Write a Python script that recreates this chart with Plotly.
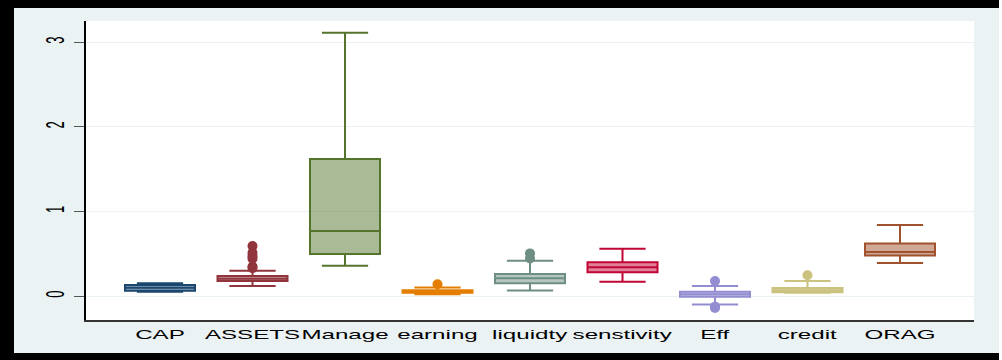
import plotly.graph_objects as go

categories = ["CAP", "ASSETS", "Manage", "earning", "liquidty", "senstivity", "Eff", "credit", "ORAG"]
q1_vals = [0.063, 0.177, 0.496, 0.040, 0.150, 0.280, -0.008, 0.044, 0.480]
median_vals = [0.098, 0.205, 0.770, 0.055, 0.210, 0.340, 0.020, 0.070, 0.520]
q3_vals = [0.130, 0.236, 1.620, 0.070, 0.260, 0.400, 0.050, 0.094, 0.620]
lower_vals = [0.050, 0.120, 0.358, 0.020, 0.067, 0.170, -0.100, 0.039, 0.390]
upper_vals = [0.150, 0.300, 3.110, 0.100, 0.417, 0.560, 0.120, 0.177, 0.840]
outlier_vals = [
    [],
    [0.59, 0.51, 0.47, 0.44, 0.35, 0.33],
    [],
    [0.14],
    [0.445, 0.504],
    [],
    [0.177, -0.125, -0.14],
    [0.245],
    [],
]
y_ticks = [0, 1, 2, 3]

colors = ["#1A476F", "#90353B", "#55752F", "#E37E00", "#6E8E84",
          "#C10534", "#938DD2", "#CAC27E", "#A0522D"]


def rgba(hexc, a):
    h = hexc.lstrip("#")
    r, g, b = int(h[0:2], 16), int(h[2:4], 16), int(h[4:6], 16)
    return f"rgba({r},{g},{b},{a})"


fig = go.Figure()
for i, cat in enumerate(categories):
    fig.add_trace(go.Box(
        x=[cat], q1=[q1_vals[i]], median=[median_vals[i]], q3=[q3_vals[i]],
        lowerfence=[lower_vals[i]], upperfence=[upper_vals[i]],
        width=0.757, whiskerwidth=0.66,
        line=dict(color=colors[i], width=2),
        fillcolor=rgba(colors[i], 0.5),
        boxpoints=False, showlegend=False, hoverinfo="skip",
    ))
    if outlier_vals[i]:
        fig.add_trace(go.Scatter(
            x=[cat] * len(outlier_vals[i]), y=outlier_vals[i], mode="markers",
            marker=dict(color=colors[i], size=10, line=dict(width=0)),
            showlegend=False, hoverinfo="skip",
        ))

W, H = 1002, 360
L, R, T, B = 86, 974, 21, 320
pw, ph = R - L, B - T


def px_x(x):
    return (x - L) / pw


def px_y(y):
    return (B - y) / ph


shapes = [
    # black frame
    dict(type="rect", xref="paper", yref="paper", x0=px_x(0), x1=px_x(14), y0=px_y(360), y1=px_y(0),
         fillcolor="black", line=dict(width=0), layer="above"),
    dict(type="rect", xref="paper", yref="paper", x0=px_x(0), x1=px_x(999), y0=px_y(8), y1=px_y(0),
         fillcolor="black", line=dict(width=0), layer="above"),
    dict(type="rect", xref="paper", yref="paper", x0=px_x(0), x1=px_x(999), y0=px_y(360), y1=px_y(353),
         fillcolor="black", line=dict(width=0), layer="above"),
    dict(type="rect", xref="paper", yref="paper", x0=px_x(999), x1=px_x(1002), y0=px_y(360), y1=px_y(0),
         fillcolor="white", line=dict(width=0), layer="above"),
]

fig.update_layout(
    width=W, height=H,
    margin=dict(l=L, r=W - R, t=T, b=H - B),
    paper_bgcolor="#EAF2F3",
    plot_bgcolor="white",
    font=dict(family="Liberation Sans, Arial, sans-serif", color="black"),
    shapes=shapes,
    boxmode="overlay",
    xaxis=dict(
        type="category", categoryorder="array", categoryarray=categories,
        range=[-0.8, 8.8], showgrid=False, zeroline=False,
        showline=True, linecolor="#333333", linewidth=1.5,
        ticks="", tickfont=dict(size=12.5), ticklabelstandoff=2, fixedrange=True,
    ),
    yaxis=dict(
        range=[-0.283, 3.25], tickvals=y_ticks, ticktext=[str(v) for v in y_ticks],
        showgrid=True, gridcolor="#EAF2F3", gridwidth=1, zeroline=False,
        showline=True, linecolor="black", linewidth=1.5,
        ticks="outside", ticklen=10, tickcolor="#555555", tickwidth=1,
        tickangle=-90, tickfont=dict(size=13), ticklabelstandoff=9,
    ),
)

# The reference image is horizontally stretched; stretch the tick label text the same way.
post_js = """
(function(){
  var gd = document.getElementById('{plot_id}');
  function stretch(){
    try {
      gd.querySelectorAll('.xtick text, .ytick text').forEach(function(t){
        if (t.getAttribute('data-st')) return;
        var r = t.getBoundingClientRect();
        var svg = t.ownerSVGElement;
        var pt = svg.createSVGPoint();
        pt.x = r.left + r.width / 2; pt.y = r.top + r.height / 2;
        var p = pt.matrixTransform(t.parentNode.getScreenCTM().inverse());
        var old = t.getAttribute('transform') || '';
        t.setAttribute('transform', 'translate(' + p.x + ',' + p.y + ') scale(1.93,1) translate(' + (-p.x) + ',' + (-p.y) + ') ' + old);
        t.setAttribute('data-st', '1');
      });
    } catch (e) {}
  }
  stretch();
})();
"""

fig.write_html("out.html", post_script=post_js)
